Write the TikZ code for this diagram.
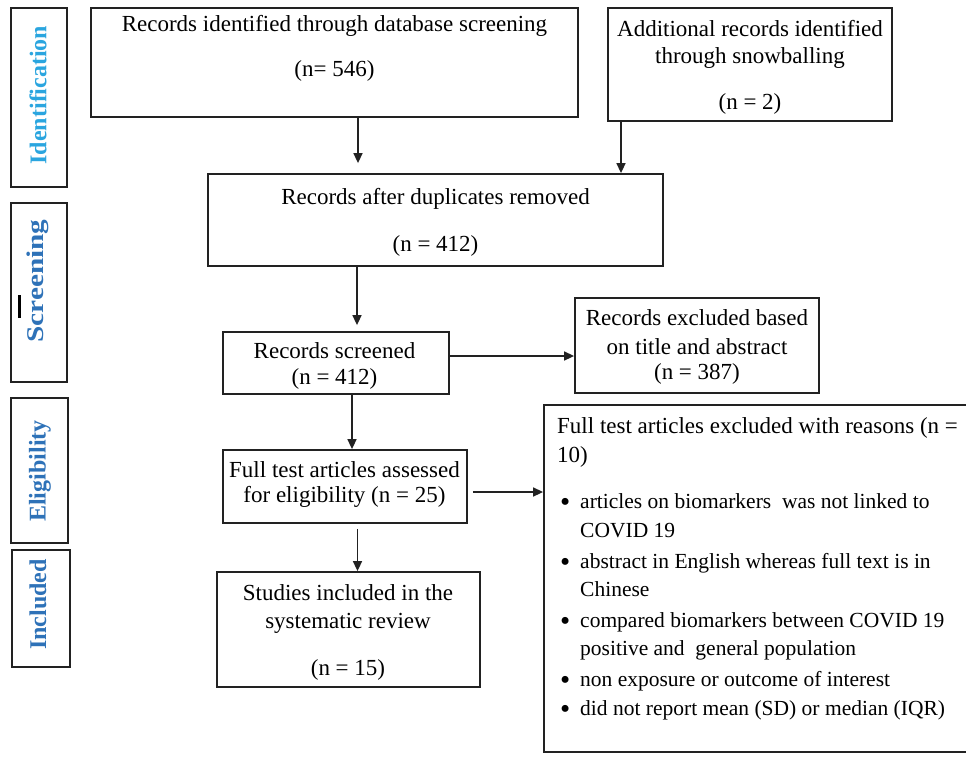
\documentclass[tikz,border=0pt]{standalone}
\usepackage{fontspec}
\setmainfont{Liberation Serif}
\usetikzlibrary{arrows.meta}
\definecolor{idblue}{HTML}{2AA5DF}
\definecolor{stblue}{HTML}{2E72B8}
\definecolor{boxline}{HTML}{222222}
\newcommand\fs{\rule{0pt}{17pt}}
\newcommand\smf{\fontsize{21.5}{27}\selectfont}
\newcommand\bul{\smf\hspace*{3pt}\makebox[20pt][l]{\raisebox{-3pt}{\scalebox{1.35}{\textbullet}}}}
\newcommand\ind{\smf\hspace*{23pt}}
\tikzset{
  box/.style={draw=boxline, line width=1.8pt, inner sep=0pt, rectangle},
  txt/.style={inner sep=0pt, align=center, font=\fontsize{23}{27}\selectfont, text=black},
  stage/.style={rotate=90, inner sep=0pt, font=\fontsize{24}{28}\selectfont\bfseries},
  arr/.style={line width=1.5pt, draw=boxline, -{Triangle[length=10pt,width=9pt]}}
}
\begin{document}
\begin{tikzpicture}[x=1pt,y=-1pt]
\useasboundingbox (0,0) rectangle (966,756);
% stage boxes
\node[box, minimum width=56pt, minimum height=179pt] (sid) at (39,97.5) {};
\node[box, minimum width=56pt, minimum height=179pt] (ssc) at (39,292.5) {};
\node[box, minimum width=57pt, minimum height=145pt] (sel) at (39.5,470.5) {};
\node[box, minimum width=58pt, minimum height=117pt] (sin) at (41,608.5) {};
\node[stage, text=idblue] (lid) at (38,95) {Identification};
\node[stage, text=stblue] (lsc) at (38,281) {\scalebox{1.22}[1]{Screening}};
\node[stage, text=stblue] (lel) at (40,471) {Eligibility};
\node[stage, text=stblue] (lin) at (38,604.5) {Included};
\draw[line width=3pt, black] (19.5,295) -- (19.5,318);
% main boxes
\node[box, minimum width=487pt, minimum height=109pt] (b1) at (334.5,62.5) {};
\node[box, minimum width=284pt, minimum height=113pt] (b2) at (750,64.5) {};
\node[box, minimum width=455pt, minimum height=92pt] (b3) at (435.5,220) {};
\node[box, minimum width=226pt, minimum height=62pt] (b4) at (336,363) {};
\node[box, minimum width=244pt, minimum height=95pt] (b5) at (697,345.5) {};
\node[box, minimum width=244pt, minimum height=73pt] (b6) at (345,486.5) {};
\node[box, minimum width=424pt, minimum height=347pt] (b7) at (756,578.5) {};
\node[box, minimum width=263pt, minimum height=115pt] (b8) at (348.5,629.5) {};
% texts
\node[txt, anchor=north] (t1) at (334.5,14) {\fs Records identified through database screening\\[18pt](n= 546)};
\node[txt, anchor=north] (t2) at (750,19) {\fs Additional records identified\\through snowballing\\[19pt](n = 2)};
\node[txt, anchor=north] (t3) at (435.5,187) {\fs Records after duplicates removed\\[20pt](n = 412)};
\node[txt, anchor=north] (t4) at (334.5,341) {\fs Records screened\\[-1pt](n = 412)};
\node[txt, anchor=north] (t5) at (697,308) {\fs Records excluded based\\[2pt]on title and abstract\\[-2pt](n = 387)};
\node[txt, anchor=north] (t6) at (344.5,460) {\fs Full test articles assessed\\[-2pt]for eligibility (n = 25)};
\node[txt, anchor=north] (t8) at (348,583) {\fs Studies included in the\\[1pt]systematic review\\[20pt](n = 15)};
\node[txt, align=left, anchor=north west] (t7) at (557,416) {\fs Full test articles excluded with reasons (n =\\[2pt]
10)\\[19pt]
\bul articles on biomarkers\ \ was not linked to\\[2pt]
\ind COVID 19\\[4pt]
\bul abstract in English whereas full text is in\\[1pt]
\ind Chinese\\[4pt]
\bul compared biomarkers between COVID 19\\[1pt]
\ind positive and\ \ general population\\[4pt]
\bul non exposure or outcome of interest\\[2pt]
\bul did not report mean (SD) or median (IQR)};
% connectors
\draw[arr, shorten >=10pt] ([xshift=23.5pt]b1.south) -- ([xshift=23.5pt]b1.south |- b3.north);
\draw[arr] ([xshift=-129pt]b2.south) -- ([xshift=-129pt]b2.south |- b3.north);
\draw[arr, shorten >=6pt] ([xshift=-78.5pt]b3.south) -- ([xshift=-78.5pt]b3.south |- b4.north);
\draw[arr] ([yshift=7pt]b4.east) -- ([yshift=7pt]b4.east -| b5.west);
\draw[arr] ([xshift=16pt]b4.south) -- ([xshift=16pt]b4.south |- b6.north);
\draw[arr] ([xshift=5pt,yshift=-5.5pt]b6.east) -- ([yshift=-5.5pt]b6.east -| b7.west);
\draw[arr, shorten <=5pt] ([xshift=12.5pt]b6.south) -- ([xshift=12.5pt]b6.south |- b8.north);
\end{tikzpicture}
\end{document}
